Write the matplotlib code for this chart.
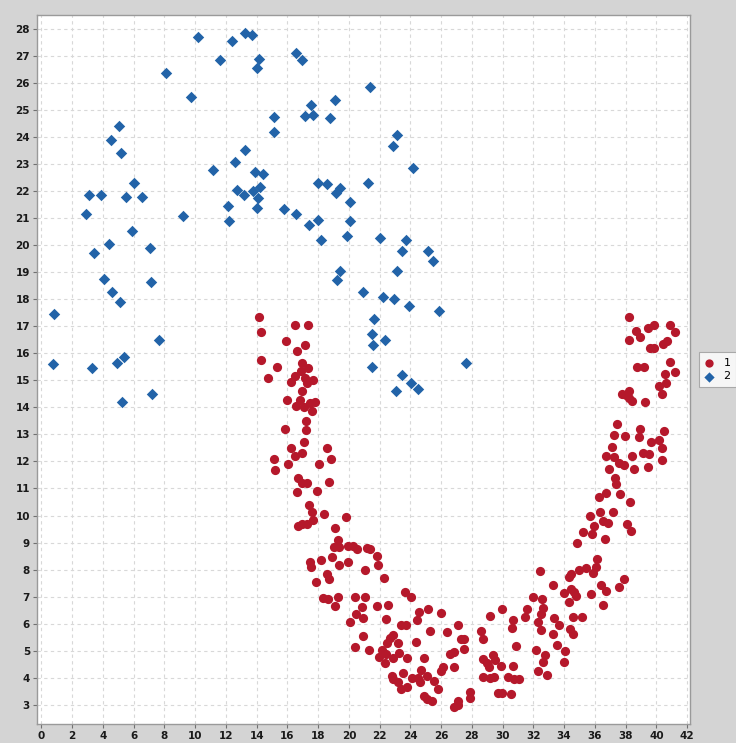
import matplotlib
matplotlib.use("Agg")
import matplotlib.pyplot as plt
import numpy as np

# class 1 (red circles)
red_x = [14.13, 16.47, 17.32, 14.28, 15.93, 17.14, 16.62, 14.28, 16.97, 15.32, 17.34, 16.86, 14.74, 16.47, 17.12, 16.23, 17.66, 17.29, 16.97, 15.97,
         16.82, 16.58, 17.08, 17.47, 17.79, 17.58, 17.19, 15.86, 17.23, 17.08, 16.23, 18.58, 16.93, 16.47, 15.13, 18.86,
         16.04, 18.04, 15.17, 16.69, 16.95, 17.27, 18.69, 16.62, 17.92, 17.42, 17.58, 18.36, 19.79, 17.66, 16.69, 16.95, 17.27, 19.08, 19.29, 19.03,
         19.36, 19.96, 20.27, 20.55, 21.18, 21.37, 18.88, 18.18, 17.47, 21.83, 19.92, 19.34, 17.53, 21.87, 21.07, 18.58, 18.69, 22.28, 17.84, 18.30,
         18.64, 19.27, 20.38, 21.03, 19.12, 20.87, 21.83, 22.54, 20.46, 20.92, 22.41,
         23.63, 24.06, 24.56, 25.15, 25.99, 20.07, 24.43, 23.39, 23.70, 27.10, 25.26, 26.36, 20.92, 22.85, 22.65, 22.46, 23.17, 24.35, 27.29, 27.49,
         20.42, 21.29, 22.13, 27.51, 22.43, 23.28, 21.94, 22.89, 23.78, 24.87, 26.58, 26.82, 22.37, 26.14, 25.99, 26.82, 24.67, 23.52, 22.78, 22.89,
         24.12, 24.52, 25.10, 24.65, 23.19, 25.56, 23.76, 23.41, 25.80, 27.88, 24.89, 25.10, 25.39, 27.10, 27.08, 26.82, 27.90,
         32.45, 34.99, 35.43, 34.47, 34.32, 33.30, 34.45, 34.65, 34.01, 34.80, 31.96, 32.56, 34.30, 32.63, 29.96, 31.61, 32.48, 29.20, 31.46, 34.60,
         35.19, 33.36, 30.66, 32.28, 33.69, 30.61, 32.50, 28.58, 34.39, 34.60, 33.30, 28.73, 33.56, 30.87, 32.15, 34.04, 32.74, 29.38, 28.74, 29.49,
         32.61, 34.01, 28.97, 29.10, 29.88, 30.70, 32.30, 32.87, 28.74, 29.16, 29.42, 30.37, 30.76, 31.05, 29.68, 29.96, 30.55,
         37.25, 37.96, 38.89, 40.50, 39.67, 40.16, 37.10, 40.39, 36.75, 37.23, 38.44, 39.15, 39.51, 40.35, 37.59, 37.88, 36.94, 38.55, 39.44, 37.29,
         37.40, 36.71, 37.64, 36.25, 38.29, 36.34, 37.18, 35.69, 36.51, 36.86, 35.95, 38.07, 35.25, 35.84, 38.33, 36.64, 34.84, 36.12, 36.06, 35.90,
         37.88, 36.40, 37.57, 36.73, 35.75, 36.53,
         38.20, 38.70, 39.44, 39.85, 40.89, 41.20, 38.24, 38.96, 40.68, 40.44, 39.61, 39.85, 40.89, 38.76, 39.20, 41.24, 40.55, 40.61, 40.16, 40.37,
         38.24, 37.77, 38.03, 38.24, 38.44, 39.25, 37.46, 38.94]
red_y = [17.35, 17.04, 17.04, 16.79, 16.45, 16.30, 16.09, 15.75, 15.65, 15.49, 15.44, 15.34, 15.09, 15.15, 15.09, 14.95, 15.00, 14.91, 14.60, 14.26,
         14.29, 14.05, 14.00, 14.15, 14.19, 13.85, 13.49, 13.20, 13.15, 12.73, 12.49, 12.49, 12.33, 12.20, 12.08, 12.08,
         11.89, 11.89, 11.68, 11.39, 11.22, 11.19, 11.24, 10.88, 10.89, 10.40, 10.14, 10.04, 9.94, 9.84, 9.63, 9.68, 9.68, 9.53, 9.09, 8.83,
         8.83, 8.88, 8.87, 8.78, 8.80, 8.78, 8.47, 8.35, 8.29, 8.49, 8.29, 8.18, 8.08, 8.18, 7.99, 7.84, 7.64, 7.69, 7.53, 6.95,
         6.90, 6.99, 6.99, 6.99, 6.66, 6.60, 6.64, 6.69, 6.34, 6.22, 6.17,
         7.18, 6.99, 6.44, 6.53, 6.38, 6.05, 6.13, 5.94, 5.94, 5.94, 5.74, 5.68, 5.54, 5.58, 5.46, 5.28, 5.28, 5.33, 5.43, 5.43,
         5.12, 5.02, 5.03, 5.07, 4.89, 4.90, 4.78, 4.73, 4.73, 4.73, 4.87, 4.94, 4.53, 4.38, 4.26, 4.38, 4.28, 4.18, 4.06, 3.96,
         3.98, 4.00, 4.07, 3.85, 3.83, 3.89, 3.64, 3.58, 3.58, 3.49, 3.32, 3.21, 3.13, 3.15, 2.99, 2.93, 3.24,
         7.93, 7.98, 8.06, 7.83, 7.73, 7.43, 7.30, 7.18, 7.12, 7.01, 6.99, 6.93, 6.79, 6.59, 6.54, 6.53, 6.34, 6.29, 6.23, 6.23,
         6.23, 6.20, 6.13, 6.07, 5.94, 5.83, 5.77, 5.74, 5.79, 5.63, 5.63, 5.43, 5.23, 5.17, 5.02, 5.00, 4.84, 4.84, 4.68, 4.65,
         4.59, 4.59, 4.53, 4.38, 4.43, 4.43, 4.25, 4.12, 4.04, 3.99, 4.04, 4.04, 3.94, 3.94, 3.44, 3.44, 3.40,
         12.99, 12.94, 12.90, 13.12, 12.73, 12.78, 12.54, 12.49, 12.20, 12.15, 12.20, 12.33, 12.27, 12.04, 11.94, 11.85, 11.73, 11.73, 11.79, 11.38,
         11.15, 10.84, 10.79, 10.67, 10.50, 10.14, 10.14, 9.98, 9.79, 9.73, 9.61, 9.68, 9.39, 9.32, 9.43, 9.13, 8.98, 8.39, 8.09, 7.87,
         7.64, 7.42, 7.34, 7.22, 7.09, 6.69,
         17.35, 16.83, 16.94, 17.04, 17.04, 16.79, 16.49, 16.59, 16.45, 16.33, 16.18, 16.18, 15.68, 15.49, 15.49, 15.29, 15.24, 14.89, 14.79, 14.49,
         14.60, 14.49, 14.45, 14.35, 14.24, 14.19, 13.39, 13.20]

# class 2 (blue diamonds)
blue_x = [0.83, 0.73, 3.29, 3.11, 3.87, 2.90, 3.40, 4.07, 4.59, 5.09, 4.39, 4.89, 5.35, 5.26, 4.52, 5.06, 5.17, 6.04, 5.50, 6.56,
          5.87, 7.06, 7.10, 7.64, 7.19, 8.08, 9.19, 9.73, 10.16, 11.63, 11.16, 12.41, 12.13, 12.18, 13.24, 13.68, 12.59, 13.24, 12.72, 13.16,
          13.74, 14.13, 14.02, 13.91, 14.39, 14.20, 14.09, 14.02, 15.16, 15.13, 15.76, 16.54, 16.97, 16.58, 17.16, 17.51, 17.66, 17.42, 17.97, 17.97,
          18.20, 18.58, 18.77, 19.12, 19.16, 19.42, 19.40, 19.21, 20.05, 20.05, 19.88, 20.92, 21.26, 21.37, 21.61, 21.50, 21.57, 21.48, 22.02, 22.20,
          22.35, 22.85, 23.11, 22.95, 23.11, 23.05, 23.46, 23.46, 23.70, 23.93, 24.02, 24.48, 24.19, 25.13, 25.45, 25.86, 27.62]
blue_y = [17.44, 15.59, 15.44, 21.84, 21.84, 21.15, 19.69, 18.73, 18.25, 17.89, 20.04, 15.63, 15.85, 14.19, 23.89, 24.40, 23.39, 22.29, 21.79, 21.79,
          20.54, 19.89, 18.64, 16.49, 14.49, 26.35, 21.08, 25.49, 27.70, 26.84, 22.79, 27.55, 21.44, 20.90, 27.85, 27.76, 23.08, 23.50, 22.03, 21.84,
          21.99, 26.89, 26.54, 22.69, 22.64, 22.15, 21.74, 21.38, 24.75, 24.19, 21.33, 27.10, 26.84, 21.15, 24.78, 25.19, 24.83, 20.73, 22.29, 20.94,
          20.19, 22.25, 24.70, 25.35, 21.93, 22.10, 19.04, 18.70, 21.59, 20.89, 20.34, 18.25, 22.29, 25.84, 17.25, 16.70, 16.29, 15.50, 20.25, 18.09,
          16.49, 23.65, 24.09, 17.99, 19.04, 14.59, 15.19, 19.79, 20.19, 17.73, 14.89, 14.69, 22.85, 19.79, 19.43, 17.55, 15.64]

x_ticks = np.arange(0, 43, 2)
y_ticks = np.arange(3, 29, 1)

fig = plt.figure(figsize=(7.36, 7.43), dpi=100, facecolor="#d4d4d4")
ax = fig.add_axes([37 / 736, 1 - 724 / 743, (690 - 37) / 736, (724 - 15) / 743])
ax.set_facecolor("white")

ax.scatter(red_x, red_y, s=44, marker="o", color="#b5182b", linewidths=0, label="1", zorder=3)
ax.scatter(blue_x, blue_y, s=34, marker="D", color="#2263a8", linewidths=0, label="2", zorder=3)

ax.set_xlim(-0.29, 42.19)
ax.set_ylim(2.29, 28.51)
ax.set_xticks(x_ticks)
ax.set_yticks(y_ticks)
ax.grid(True, color="#d8d8d8", linestyle=(0, (3, 3)), linewidth=0.8)
ax.set_axisbelow(True)

for side in ax.spines.values():
    side.set_color("#9a9a9a")
    side.set_linewidth(1.0)

ax.tick_params(axis="both", direction="out", length=3, width=0.8, color="#707070",
               labelsize=7.5, labelcolor="#1a1a1a", pad=2)
for lab in ax.get_xticklabels() + ax.get_yticklabels():
    lab.set_fontweight("bold")

leg = fig.legend(loc="upper left", bbox_to_anchor=(699 / 736, 1 - 352 / 743),
                 borderaxespad=0, frameon=True, fancybox=False, fontsize=8,
                 handletextpad=0.9, borderpad=0.5, labelspacing=0.35,
                 handlelength=0.8, markerscale=0.9)
leg.get_frame().set_edgecolor("#9a9a9a")
leg.get_frame().set_linewidth(0.8)

plt.savefig("out.png", dpi=100, facecolor=fig.get_facecolor())
